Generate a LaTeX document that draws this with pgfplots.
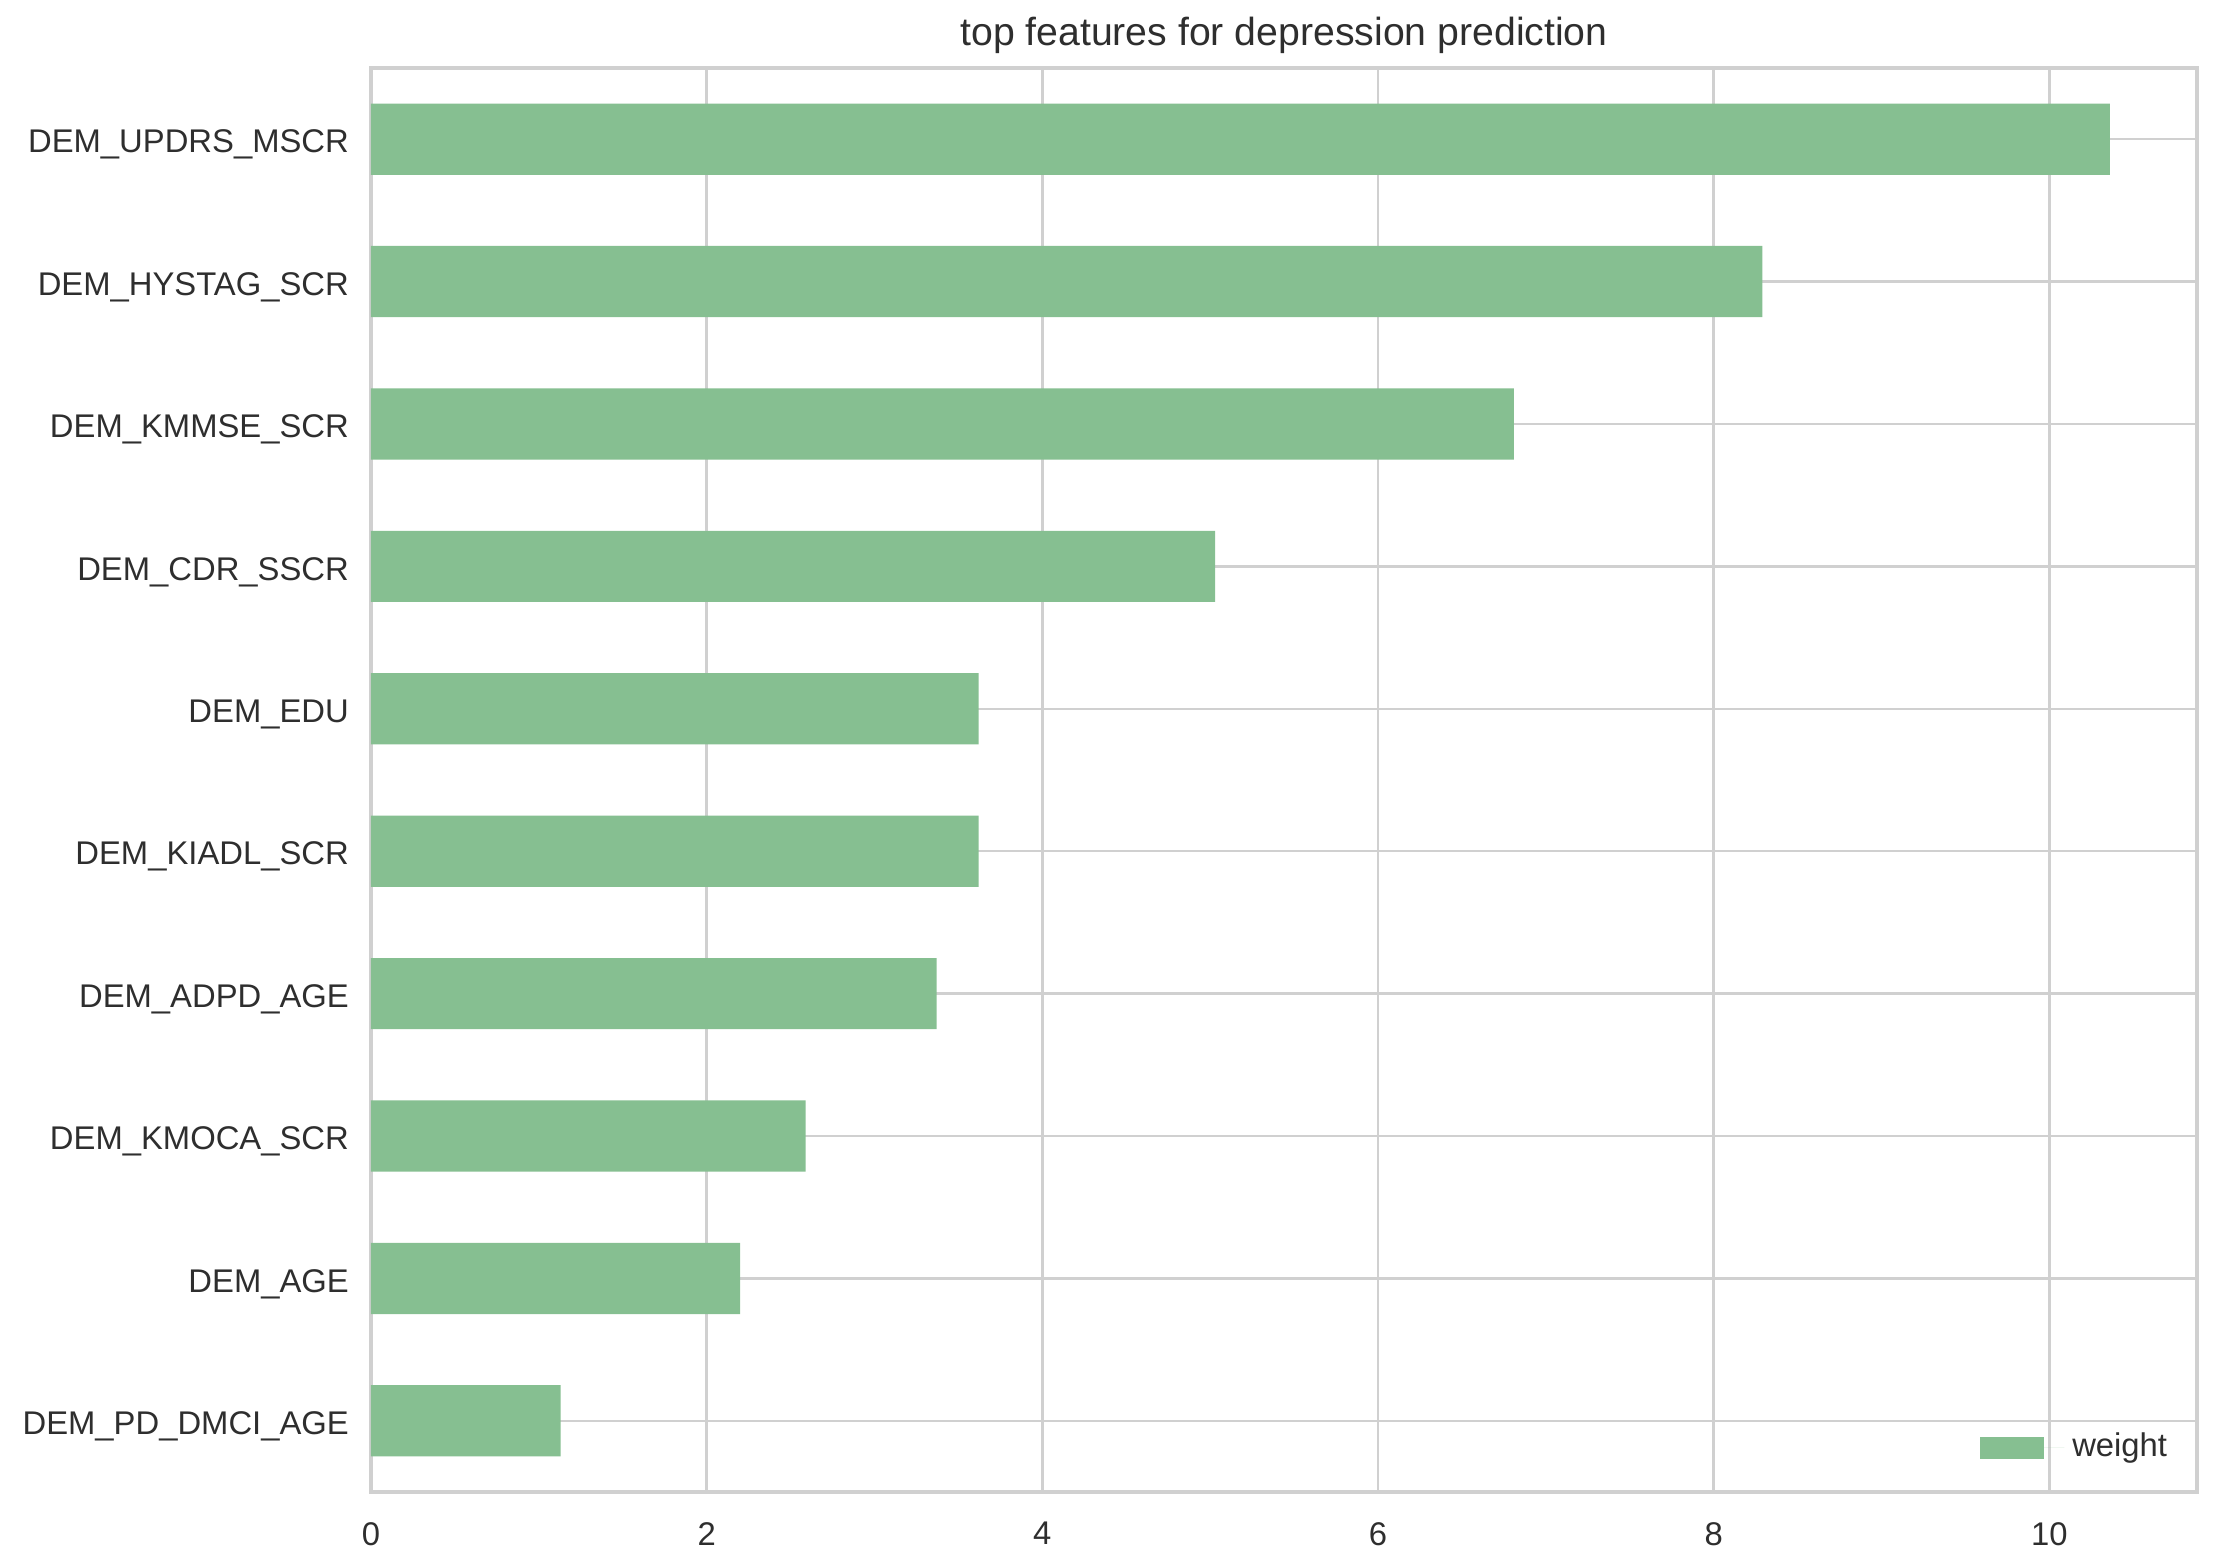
\documentclass[border=0pt]{standalone}
\usepackage{pgfplots}
\pgfplotsset{compat=1.18}
\usepackage{fontspec}
\setmainfont{Liberation Sans}
\definecolor{bargreen}{HTML}{86BF91}
\definecolor{gridgray}{HTML}{D0D0D0}
\definecolor{txt}{HTML}{2E2E2E}
\begin{document}
\begin{tikzpicture}
\begin{axis}[
  scale only axis,
  width=456.5pt, height=356pt,
  xbar, bar width=0.5,
  xmin=0, xmax=10.88,
  ymin=-0.5, ymax=9.5,
  xtick={0,2,4,6,8,10},
  ytick={0,...,9},
  yticklabels={DEM\_PD\_DMCI\_AGE,DEM\_AGE,DEM\_KMOCA\_SCR,DEM\_ADPD\_AGE,DEM\_KIADL\_SCR,DEM\_EDU,DEM\_CDR\_SSCR,DEM\_KMMSE\_SCR,DEM\_HYSTAG\_SCR,DEM\_UPDRS\_MSCR},
  major tick length=0pt,
  xmajorgrids, ymajorgrids,
  grid style={gridgray, line width=0.6pt},
  axis line style={gridgray, line width=0.9pt},
  /pgf/number format/assume math mode=true,
  tick label style={font=\fontsize{8.2}{10}\selectfont, text=txt},
  xticklabel style={yshift=-4pt},
  yticklabel style={xshift=-2pt, yshift=-1.4pt},
  title={top features for depression prediction},
  title style={font=\fontsize{9.8}{12}\selectfont, text=txt, yshift=-6pt},
  legend style={at={(axis description cs:0.995,0.009)}, anchor=south east, draw=none, fill=none,
    font=\fontsize{8.2}{10}\selectfont, text=txt},
  legend image code/.code={\fill[bargreen] (0pt,-2.75pt) rectangle (16pt,2.75pt); \path (0pt,0pt) -- (21pt,0pt);},
  legend cell align=left,
]
\addplot[fill=bargreen, draw=none] coordinates {
  (1.13,0) (2.20,1) (2.59,2) (3.37,3) (3.62,4) (3.62,5) (5.03,6) (6.81,7) (8.29,8) (10.36,9)
};
\addlegendentry{weight}
\end{axis}
\pgfresetboundingbox
\path (current axis.south west) ++(-92.75pt,-18.5pt) coordinate (bl);
\path (current axis.north east) ++(6.5pt,17pt) coordinate (tr);
\path (bl) rectangle (tr);
\end{tikzpicture}
\end{document}
